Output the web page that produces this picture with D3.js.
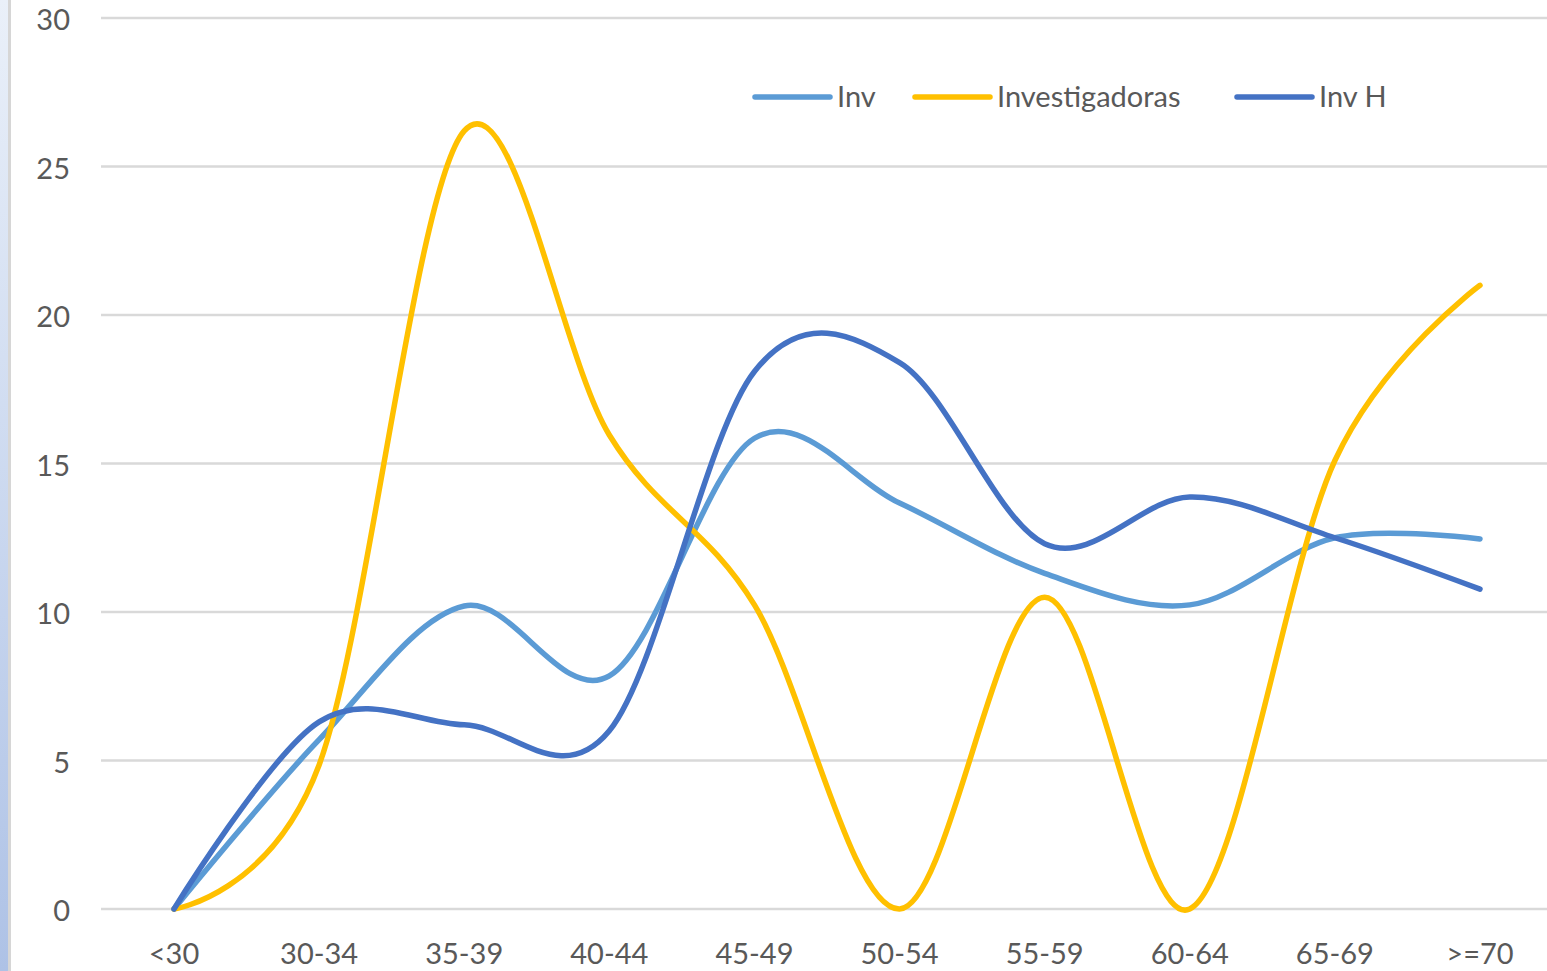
<!DOCTYPE html>
<html>
<head>
<meta charset="utf-8">
<script src="https://cdn.jsdelivr.net/npm/d3@7"></script>
<style>
  body { margin: 0; background: #fff; }
  svg { display: block; }
  text { font-family: Lato, "Open Sans", sans-serif; fill: #595959; }
</style>
</head>
<body>
<div id="chart"></div>
<script>
var categories = ["<30", "30-34", "35-39", "40-44", "45-49", "50-54", "55-59", "60-64", "65-69", ">=70"];
var seriesNames = ["Inv", "Investigadoras", "Inv H"];
var invValues = [0, 5.7, 10.2, 7.85, 15.85, 13.67, 11.3, 10.24, 12.5, 12.46];
var investigadorasValues = [0, 4.85, 26.2, 15.96, 10.24, 0, 10.5, 0, 15.1, 21.0];
var invHValues = [0, 6.3, 6.2, 6.0, 18.1, 18.4, 12.3, 13.87, 12.5, 10.77];
var yTicks = [0, 5, 10, 15, 20, 25, 30];

var width = 1547, height = 971;
var colors = ["#5B9BD5", "#FFC000", "#4472C4"];
var series = [invValues, investigadorasValues, invHValues];

var svg = d3.select("#chart")
    .append("svg")
    .attr("width", width)
    .attr("height", height);

// left edge strip (window border)
var grad = svg.append("defs").append("linearGradient")
    .attr("id", "edge")
    .attr("x1", 0).attr("y1", 0).attr("x2", 0).attr("y2", 1);
grad.append("stop").attr("offset", "0%").attr("stop-color", "#EAF0F9");
grad.append("stop").attr("offset", "100%").attr("stop-color", "#AEC2E6");
svg.append("rect").attr("x", 0).attr("y", 0).attr("width", 8).attr("height", height).attr("fill", "url(#edge)");
svg.append("rect").attr("x", 8).attr("y", 0).attr("width", 3).attr("height", height).attr("fill", "#D6D6D6");

var xScale = d3.scalePoint()
    .domain(categories)
    .range([174, 1480]);

var yScale = d3.scaleLinear()
    .domain([0, 30])
    .range([909, 18]);

// gridlines
svg.append("g")
    .selectAll("line")
    .data(yTicks)
    .enter()
    .append("line")
    .attr("x1", 101)
    .attr("x2", width)
    .attr("y1", function(d) { return yScale(d); })
    .attr("y2", function(d) { return yScale(d); })
    .attr("stroke", "#D9D9D9")
    .attr("stroke-width", 2.5);

// y labels
svg.append("g")
    .selectAll("text")
    .data(yTicks)
    .enter()
    .append("text")
    .attr("x", 70)
    .attr("y", function(d) { return yScale(d) + 12; })
    .attr("text-anchor", "end")
    .attr("font-size", 29)
    .text(function(d) { return d; });

// x labels
svg.append("g")
    .selectAll("text")
    .data(categories)
    .enter()
    .append("text")
    .attr("x", function(d) { return xScale(d); })
    .attr("y", 964)
    .attr("text-anchor", "middle")
    .attr("font-size", 29)
    .text(function(d) { return d; });

var line = d3.line()
    .x(function(d, i) { return xScale(categories[i]); })
    .y(function(d) { return yScale(d); })
    .curve(d3.curveCatmullRom.alpha(0));

svg.append("g")
    .selectAll("path")
    .data(series)
    .enter()
    .append("path")
    .attr("d", function(d) { return line(d); })
    .attr("fill", "none")
    .attr("stroke", function(d, i) { return colors[i]; })
    .attr("stroke-width", 5.5)
    .attr("stroke-linecap", "round")
    .attr("stroke-linejoin", "round");

// legend
var legendX = [755, 915, 1237];
var legend = svg.append("g")
    .selectAll("g")
    .data(seriesNames)
    .enter()
    .append("g")
    .attr("transform", function(d, i) { return "translate(" + legendX[i] + ",97)"; });

legend.append("line")
    .attr("x1", 0)
    .attr("x2", 75)
    .attr("stroke", function(d, i) { return colors[i]; })
    .attr("stroke-width", 5.5)
    .attr("stroke-linecap", "round");

legend.append("text")
    .attr("x", 82)
    .attr("y", 10)
    .attr("font-size", 29)
    .text(function(d) { return d; });
</script>
</body>
</html>
